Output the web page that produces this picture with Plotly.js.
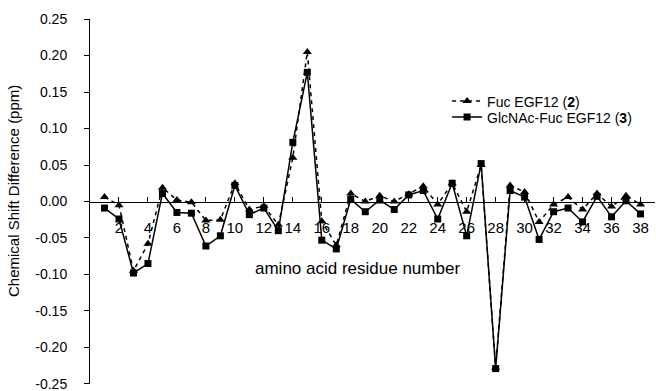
<!DOCTYPE html>
<html>
<head>
<meta charset="utf-8">
<script src="https://cdn.plot.ly/plotly-3.0.1.min.js"></script>
<style>html,body{margin:0;padding:0;background:#fff;}#chart{width:656px;height:391px;}</style>
</head>
<body>
<div id="chart"></div>
<script>
const residues = [1,2,3,4,5,6,7,8,9,10,11,12,13,14,15,16,17,18,19,20,21,22,23,24,25,26,27,28,29,30,31,32,33,34,35,36,37,38];
const fucEGF12 = [0.006,-0.005,-0.095,-0.058,0.019,0.002,-0.001,-0.026,-0.025,0.025,-0.011,-0.006,-0.032,0.060,0.205,-0.027,-0.060,0.011,0.000,0.008,0.000,0.010,0.021,-0.004,0.025,-0.014,0.050,-0.228,0.022,0.013,-0.028,-0.004,0.006,-0.011,0.011,-0.007,0.008,-0.004];
const glcNAcFucEGF12 = [-0.009,-0.024,-0.098,-0.085,0.011,-0.015,-0.016,-0.061,-0.047,0.022,-0.018,-0.009,-0.040,0.081,0.177,-0.053,-0.065,0.003,-0.014,0.002,-0.011,0.009,0.015,-0.024,0.025,-0.047,0.052,-0.229,0.015,0.006,-0.052,-0.014,-0.009,-0.028,0.007,-0.021,0.001,-0.017];
const xTickVals = [2,4,6,8,10,12,14,16,18,20,22,24,26,28,30,32,34,36,38];
const xTickText = ["2","4","6","8","10","12","14","16","18","20","22","24","26","28","30","32","34","36","38"];
const yTickVals = [0.25,0.20,0.15,0.10,0.05,0.00,-0.05,-0.10,-0.15,-0.20,-0.25];
const yTickText = ["0.25","0.20","0.15","0.10","0.05","0.00","-0.05","-0.10","-0.15","-0.20","-0.25"];

const FONT = "'Liberation Sans', Arial, sans-serif";
const T = 19, B = 7, PH = 391 - T - B;
const py = (pix) => 1 - (pix - T) / PH;

const traces = [
  {
    x: residues, y: fucEGF12, type: 'scatter', mode: 'lines+markers',
    name: 'Fuc EGF12 (<b>2</b>)', legend: 'legend',
    line: {color: '#000', width: 1.5, dash: '4px,4px'},
    marker: {symbol: 'triangle-up', size: 8, color: '#000'}
  },
  {
    x: residues, y: glcNAcFucEGF12, type: 'scatter', mode: 'lines+markers',
    name: 'GlcNAc-Fuc EGF12 (<b>3</b>)', legend: 'legend2',
    line: {color: '#000', width: 1.5},
    marker: {symbol: 'square', size: 7, color: '#000'}
  }
];

const legendBase = {xanchor: 'left', yanchor: 'middle', bgcolor: 'rgba(0,0,0,0)', font: {family: FONT, size: 14, color: '#000'}};

const layout = {
  width: 656, height: 391,
  margin: {l: 90, r: 1, t: T, b: B},
  paper_bgcolor: '#fff', plot_bgcolor: '#fff',
  font: {family: FONT, size: 15, color: '#000'},
  showlegend: true,
  legend: Object.assign({}, legendBase, {x: 0.632, y: py(101.5)}),
  legend2: Object.assign({}, legendBase, {x: 0.632, y: py(117.5)}),
  xaxis: {
    range: [0, 39], anchor: 'free', position: 0.5,
    showline: true, linecolor: '#000', linewidth: 1,
    ticks: 'inside', ticklen: 5, tickcolor: '#000',
    tickmode: 'array', tickvals: xTickVals, ticktext: xTickText,
    ticklabelstandoff: 12,
    showgrid: false, zeroline: false,
    tickfont: {family: FONT, size: 15, color: '#000'}
  },
  yaxis: {
    range: [-0.2501, 0.2501],
    showline: true, linecolor: '#000', linewidth: 1,
    ticks: 'outside', ticklen: 5, tickcolor: '#000',
    tickmode: 'array', tickvals: yTickVals, ticktext: yTickText,
    ticklabelstandoff: 14, ticklabeloverflow: 'allow',
    showgrid: false, zeroline: false,
    tickfont: {family: FONT, size: 14, color: '#000'}
  },
  annotations: [
    {text: 'amino acid residue number', xref: 'paper', yref: 'paper', x: (357 - 90) / 565, y: py(268), xanchor: 'center', yanchor: 'middle', showarrow: false, font: {family: FONT, size: 17, color: '#000'}},
    {text: 'Chemical Shift Difference (ppm)', xref: 'paper', yref: 'paper', x: (13 - 90) / 565, y: py(191), xanchor: 'center', yanchor: 'middle', textangle: -90, showarrow: false, font: {family: FONT, size: 15, color: '#000'}}
  ]
};

Plotly.newPlot('chart', traces, layout, {displayModeBar: false, staticPlot: true});
</script>
</body>
</html>
